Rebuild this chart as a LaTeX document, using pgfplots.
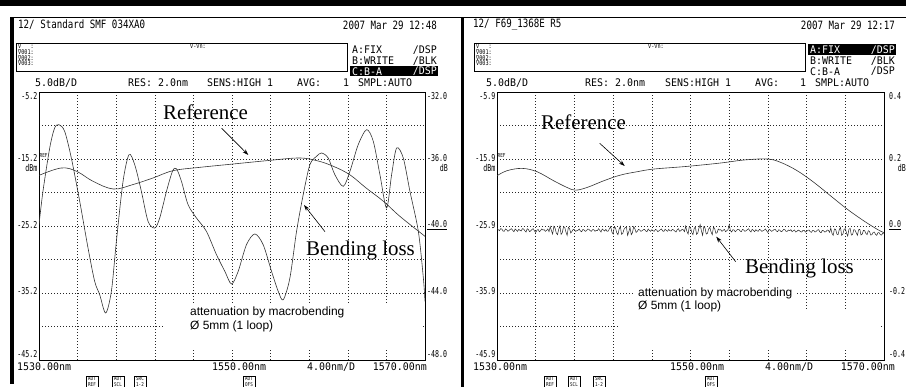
\documentclass[border=0pt]{standalone}
\usepackage{pgfplots}
\pgfplotsset{compat=1.18}
\usetikzlibrary{arrows.meta}
\usepackage{fontspec}
\setmainfont{Liberation Serif}
\newfontfamily\osa[FakeStretch=0.8]{DejaVu Sans Mono}
\newfontfamily\osan[FakeStretch=0.7]{DejaVu Sans Mono}
\newfontfamily\osaw[FakeStretch=0.95]{DejaVu Sans Mono}
\newfontfamily\arial{Liberation Sans}
\newcommand{\fs}[1]{\fontsize{#1}{#1}\selectfont}

\pgfplotsset{osa/.style={
  anchor=south west, width=386bp, height=268bp, scale only axis,
  xmin=1530, xmax=1570, xtick={1530,1534,...,1570},
  xticklabels={}, yticklabels={}, major tick length=0pt,
  grid=major, major grid style={black!85, line width=0.45bp, dash pattern=on 0.9bp off 2.1bp},
  axis line style={black, line width=0.9bp}},
  trace/.style={black!80, line width=0.6bp}}

\begin{document}
\begin{tikzpicture}
\useasboundingbox (0,0) rectangle (906bp,387bp);

% ---------------- left panel ----------------
\begin{axis}[osa, at={(39bp,27bp)}, ymin=-45.2, ymax=-5.2,
  ytick={-45.2,-40.2,-35.2,-30.2,-25.2,-20.2,-15.2,-10.2,-5.2}]
\fill[white] (axis cs:1543,-43.6) rectangle (axis cs:1569.6,-36.9);
% Reference (A: FIX)
\addplot[trace, smooth, tension=0.6] coordinates {
(1530.0,-17.64)(1532.3,-16.54)(1533.9,-17.04)(1535.6,-18.53)(1537.7,-19.68)
(1539.7,-19.03)(1541.8,-18.04)(1543.9,-16.94)(1546.7,-16.44)(1550.1,-15.95)
(1553.6,-15.45)(1556.9,-15.05)(1558.8,-15.45)(1560.5,-16.29)(1562.2,-17.54)
(1563.9,-19.53)(1565.7,-21.52)(1567.4,-23.76)(1570.0,-26.74)};
% Bending loss (C: B-A)
\addplot[trace, smooth, tension=0.5] coordinates {
(1530.00,-25.00)(1530.41,-20.03)(1531.11,-13.56)(1531.62,-10.57)(1532.07,-10.08)
(1532.66,-11.07)(1533.35,-15.05)(1534.22,-21.52)(1535.08,-28.48)(1535.77,-33.46)
(1536.29,-35.45)(1536.91,-38.18)(1537.50,-34.95)(1538.02,-27.49)(1538.71,-18.53)
(1539.33,-14.55)(1539.92,-16.05)(1540.61,-20.03)(1541.30,-24.50)(1542.00,-25.50)
(1542.51,-24.01)(1543.21,-20.03)(1543.83,-17.04)(1544.24,-16.64)(1544.76,-18.53)
(1545.45,-22.02)(1546.32,-24.01)(1547.35,-26.00)(1548.39,-29.48)(1549.26,-31.97)
(1549.95,-33.86)(1550.64,-31.97)(1551.50,-27.99)(1552.37,-26.39)(1553.23,-27.99)
(1554.10,-31.97)(1554.79,-34.95)(1555.31,-36.20)(1556.00,-32.96)(1556.69,-26.00)
(1557.38,-20.52)(1558.07,-16.05)(1558.76,-14.80)(1559.28,-14.30)(1559.97,-15.05)
(1560.66,-17.54)(1561.53,-19.28)(1562.22,-17.04)(1563.08,-13.06)(1563.95,-10.82)
(1564.64,-12.56)(1565.33,-17.54)(1566.02,-22.51)(1566.54,-17.54)(1567.06,-13.56)
(1567.75,-15.05)(1568.44,-20.03)(1569.31,-26.00)(1569.83,-32.96)(1570.00,-36.44)};
\end{axis}

% ---------------- right panel ----------------
\begin{axis}[osa, at={(497bp,27bp)}, width=387bp, ymin=-45.9, ymax=-5.9,
  ytick={-45.9,-40.9,-35.9,-30.9,-25.9,-20.9,-15.9,-10.9,-5.9}]
\fill[white] (axis cs:1542.6,-44.3) rectangle (axis cs:1569.6,-38.6);
\fill[white] (axis cs:1544.2,-39) rectangle (axis cs:1560.8,-35.2);
\addplot[trace, smooth, tension=0.6] coordinates {
(1530.00,-18.40)(1531.03,-17.65)(1532.59,-17.30)(1534.14,-17.80)(1535.86,-19.15)
(1537.24,-20.15)(1538.10,-20.55)(1539.31,-20.15)(1541.03,-19.15)(1542.76,-18.30)
(1544.48,-17.80)(1546.21,-17.40)(1549.66,-17.00)(1553.10,-16.50)(1555.52,-16.05)
(1557.93,-15.90)(1559.31,-16.40)(1561.03,-17.65)(1562.76,-19.40)(1564.48,-21.40)
(1566.21,-23.40)(1567.93,-25.15)(1569.31,-26.40)(1570.00,-26.90)};
\addplot[black!85, line width=0.5bp] table {
1530.000 -26.20
1530.125 -26.45
1530.250 -26.60
1530.375 -26.30
1530.500 -26.35
1530.625 -26.65
1530.750 -26.70
1530.875 -26.35
1531.000 -26.45
1531.125 -26.70
1531.250 -26.55
1531.375 -26.40
1531.500 -26.30
1531.625 -26.55
1531.750 -26.75
1531.875 -26.35
1532.000 -26.50
1532.125 -26.70
1532.250 -26.40
1532.375 -26.55
1532.500 -26.65
1532.625 -26.30
1532.750 -26.35
1532.875 -26.60
1533.000 -26.80
1533.125 -26.30
1533.250 -26.45
1533.375 -26.75
1533.500 -26.60
1533.625 -26.40
1533.750 -26.30
1533.875 -26.65
1534.000 -26.85
1534.125 -26.55
1534.250 -26.40
1534.375 -26.75
1534.500 -26.60
1534.625 -26.35
1534.750 -26.50
1534.875 -26.45
1535.000 -26.70
1535.125 -26.55
1535.250 -26.35
1535.375 -26.75
1535.500 -26.00
1535.625 -26.60
1535.750 -27.10
1535.875 -25.95
1536.000 -26.20
1536.125 -26.95
1536.250 -27.20
1536.375 -26.40
1536.500 -25.90
1536.625 -27.15
1536.750 -26.90
1536.875 -26.00
1537.000 -26.10
1537.125 -26.80
1537.250 -27.30
1537.375 -26.10
1537.500 -26.30
1537.625 -26.95
1537.750 -26.70
1537.875 -26.40
1538.000 -26.45
1538.125 -26.70
1538.250 -26.60
1538.375 -26.55
1538.500 -26.35
1538.625 -26.65
1538.750 -26.75
1538.875 -26.40
1539.000 -26.50
1539.125 -26.70
1539.250 -26.60
1539.375 -26.35
1539.500 -26.40
1539.625 -26.60
1539.750 -26.70
1539.875 -26.45
1540.000 -26.45
1540.125 -26.70
1540.250 -26.55
1540.375 -26.60
1540.500 -26.30
1540.625 -26.55
1540.750 -26.80
1540.875 -26.35
1541.000 -26.50
1541.125 -26.65
1541.250 -26.40
1541.375 -26.70
1541.500 -26.65
1541.625 -26.30
1541.750 -26.00
1541.875 -26.80
1542.000 -27.10
1542.125 -26.00
1542.250 -26.20
1542.375 -26.90
1542.500 -27.20
1542.625 -26.35
1542.750 -25.95
1542.875 -27.15
1543.000 -27.00
1543.125 -26.40
1543.250 -26.15
1543.375 -26.05
1543.500 -27.30
1543.625 -26.75
1543.750 -26.10
1543.875 -27.20
1544.000 -26.90
1544.125 -26.00
1544.250 -26.30
1544.375 -26.85
1544.500 -26.70
1544.625 -26.40
1544.750 -26.50
1544.875 -26.70
1545.000 -26.60
1545.125 -26.45
1545.250 -26.40
1545.375 -26.65
1545.500 -26.75
1545.625 -26.35
1545.750 -26.55
1545.875 -26.70
1546.000 -26.45
1546.125 -26.60
1546.250 -26.70
1546.375 -26.40
1546.500 -26.50
1546.625 -26.75
1546.750 -26.60
1546.875 -26.45
1547.000 -26.35
1547.125 -26.65
1547.250 -26.70
1547.375 -26.40
1547.500 -26.55
1547.625 -26.70
1547.750 -26.40
1547.875 -26.60
1548.000 -26.65
1548.125 -26.40
1548.250 -26.50
1548.375 -26.65
1548.500 -26.80
1548.625 -26.45
1548.750 -26.30
1548.875 -26.70
1549.000 -26.60
1549.125 -26.40
1549.250 -26.45
1549.375 -26.75
1549.500 -25.90
1549.625 -26.70
1549.750 -27.10
1549.875 -26.00
1550.000 -26.10
1550.125 -26.85
1550.250 -27.20
1550.375 -26.30
1550.500 -26.00
1550.625 -27.15
1550.750 -26.95
1550.875 -26.20
1551.000 -25.70
1551.125 -26.60
1551.250 -27.30
1551.375 -26.00
1551.500 -26.20
1551.625 -27.10
1551.750 -27.00
1551.875 -26.35
1552.000 -26.10
1552.125 -26.80
1552.250 -27.20
1552.375 -26.05
1552.500 -26.30
1552.625 -27.00
1552.750 -26.90
1552.875 -26.35
1553.000 -26.50
1553.125 -26.45
1553.250 -26.70
1553.375 -26.55
1553.500 -26.40
1553.625 -26.75
1553.750 -26.60
1553.875 -26.45
1554.000 -25.70
1554.125 -26.60
1554.250 -26.80
1554.375 -26.45
1554.500 -26.50
1554.625 -26.75
1554.750 -26.60
1554.875 -26.40
1555.000 -26.40
1555.125 -26.65
1555.250 -26.75
1555.375 -26.40
1555.500 -26.50
1555.625 -26.70
1555.750 -26.60
1555.875 -26.45
1556.000 -26.30
1556.125 -26.60
1556.250 -26.80
1556.375 -26.40
1556.500 -26.55
1556.625 -26.75
1556.750 -26.45
1556.875 -26.60
1557.000 -26.70
1557.125 -26.40
1557.250 -26.50
1557.375 -26.70
1557.500 -26.60
1557.625 -26.50
1557.750 -26.35
1557.875 -26.65
1558.000 -26.85
1558.125 -26.40
1558.250 -26.50
1558.375 -26.70
1558.500 -26.60
1558.625 -26.45
1558.750 -26.40
1558.875 -26.65
1559.000 -26.75
1559.125 -26.45
1559.250 -26.55
1559.375 -26.75
1559.500 -26.65
1559.625 -26.40
1559.750 -26.45
1559.875 -26.70
1560.000 -26.70
1560.125 -26.50
1560.250 -26.60
1560.375 -26.45
1560.500 -26.75
1560.625 -26.60
1560.750 -26.50
1560.875 -26.80
1561.000 -26.70
1561.125 -26.50
1561.250 -26.60
1561.375 -26.75
1561.500 -26.80
1561.625 -26.55
1561.750 -26.55
1561.875 -26.80
1562.000 -26.70
1562.125 -26.55
1562.250 -26.50
1562.375 -26.75
1562.500 -26.85
1562.625 -26.55
1562.750 -26.60
1562.875 -26.80
1563.000 -26.70
1563.125 -26.50
1563.250 -26.45
1563.375 -26.80
1563.500 -26.90
1563.625 -26.55
1563.750 -26.60
1563.875 -26.80
1564.000 -26.75
1564.125 -26.50
1564.250 -26.55
1564.375 -26.85
1564.500 -26.20
1564.625 -27.00
1564.750 -27.30
1564.875 -26.35
1565.000 -26.40
1565.125 -27.10
1565.250 -27.20
1565.375 -26.45
1565.500 -26.10
1565.625 -27.30
1565.750 -27.10
1565.875 -26.40
1566.000 -26.30
1566.125 -26.95
1566.250 -27.40
1566.375 -26.40
1566.500 -26.25
1566.625 -27.25
1566.750 -27.20
1566.875 -26.45
1567.000 -26.50
1567.125 -26.90
1567.250 -27.30
1567.375 -26.45
1567.500 -26.40
1567.625 -27.25
1567.750 -27.10
1567.875 -26.55
1568.000 -26.60
1568.125 -27.00
1568.250 -27.20
1568.375 -26.60
1568.500 -26.70
1568.625 -27.25
1568.750 -27.20
1568.875 -26.85
1569.000 -26.80
1569.125 -27.15
1569.250 -27.30
1569.375 -26.90
1569.500 -26.90
1569.625 -27.20
1569.750 -27.25
1569.875 -26.95
1570.000 -27.00
};
\end{axis}

% ---------------- decorations and texts (pixel coordinates) ----------------
\begin{scope}[x=1bp, y=-1bp, shift={(0bp,387bp)}, every node/.style={inner sep=0pt}]
\fill[black] (0,0) rectangle (906,6.5);
\draw[line width=1.2bp] (10,17.5) -- (906,17.5);
\fill[black] (10,17) rectangle (13.5,384);
\fill[black] (460.5,17) rectangle (464,387);

% ---- left header ----
\node[anchor=west, font=\osa\fs{11.5}] at (18,25) {12/ Standard SMF 034XA0};
\node[anchor=east, font=\osa\fs{11.5}] at (437,25) {2007 Mar 29 12:48};
\draw[line width=0.6bp] (16,43) rectangle (347,71.5);
\node[anchor=west, font=\osa\fs{6.5}] at (18,46.5) {∇\phantom{000}:};
\node[anchor=west, font=\osa\fs{6.5}] at (18,52.5) {∇001:};
\node[anchor=west, font=\osa\fs{6.5}] at (18,58) {∇002:};
\node[anchor=west, font=\osa\fs{6.5}] at (18,63.5) {∇003:};
\node[anchor=west, font=\osa\fs{6.5}] at (190,46.5) {∇-∇n:};
\node[anchor=west, font=\osaw\fs{10.5}] at (352,50) {A:FIX};
\node[anchor=east, font=\osaw\fs{10.5}] at (437,50) {/DSP};
\node[anchor=west, font=\osaw\fs{10.5}] at (352,61) {B:WRITE};
\node[anchor=east, font=\osaw\fs{10.5}] at (437,61) {/BLK};
\fill[black] (350,66) rectangle (438,76.5);
\node[anchor=west, font=\osaw\fs{10.5}, text=white] at (352,71.5) {C:B-A};
\node[anchor=east, font=\osaw\fs{10.5}, text=white] at (437,71.5) {/DSP};
\node[anchor=west, font=\osaw\fs{10.5}] at (35,83) {5.0dB/D};
\node[anchor=west, font=\osaw\fs{10.5}] at (128,83) {RES: 2.0nm};
\node[anchor=west, font=\osaw\fs{10.5}] at (207,83) {SENS:HIGH 1};
\node[anchor=west, font=\osaw\fs{10.5}] at (297,83) {AVG:};
\node[anchor=west, font=\osaw\fs{10.5}] at (343,83) {1};
\node[anchor=west, font=\osaw\fs{10.5}] at (358,83) {SMPL:AUTO};
% left y labels
\node[anchor=east, font=\osan\fs{9.5}] at (37.5,96.5) {-5.2};
\node[anchor=east, font=\osan\fs{9.5}] at (37.5,158) {-15.2};
\node[anchor=west, font=\osa\fs{5.5}] at (39.5,155.5) {REF};
\node[anchor=east, font=\osan\fs{9.5}] at (37.5,167.5) {dBm};
\node[anchor=east, font=\osan\fs{9.5}] at (37.5,225) {-25.2};
\node[anchor=east, font=\osan\fs{9.5}] at (37.5,291.5) {-35.2};
\node[anchor=east, font=\osan\fs{9.5}] at (37.5,354.5) {-45.2};
\node[anchor=west, font=\osan\fs{9.5}] at (427,96.5) {-32.0};
\node[anchor=west, font=\osan\fs{9.5}] at (427,158) {-36.0};
\node[anchor=east, font=\osan\fs{9.5}] at (448,167.5) {dB};
\node[anchor=west, font=\osan\fs{9.5}] at (427,225) {\underline{-40.0}};
\node[anchor=west, font=\osan\fs{9.5}] at (427,291.5) {-44.0};
\node[anchor=west, font=\osan\fs{9.5}] at (427,354.5) {-48.0};
% left x labels
\node[anchor=west, font=\osaw\fs{10.5}] at (17,367) {1530.00nm};
\node[anchor=west, font=\osaw\fs{10.5}] at (212,367) {1550.00nm};
\node[anchor=west, font=\osaw\fs{10.5}] at (307,367) {4.00nm/D};
\node[anchor=east, font=\osaw\fs{10.5}] at (427,367) {1570.00nm};
\foreach \cx/\ta/\tb in {92/AUT/REF, 118/AUT/SCL, 140/SRC/1-2, 249/AUT/OFS}
  \node[draw, line width=0.45bp, inner sep=0.6bp, minimum width=12bp, minimum height=10.5bp, font=\osa\fs{5.3}, align=center] at (\cx,381.5) {\ta\\\tb};
% left annotations
\node[anchor=base west, font=\fs{21}] at (163,119.5) {Reference};
\node[anchor=base west, font=\fs{21}] at (306,255.5) {Bending loss};
\draw[line width=0.6bp, -{Stealth[length=6bp,width=4bp]}] (221.7,128.3) -- (248.3,155);
\draw[line width=0.6bp, -{Stealth[length=6bp,width=4bp]}] (325,231.7) -- (304,205);
\node[anchor=base west, font=\arial\fs{12}] at (190,316) {attenuation by macrobending};
\node[anchor=base west, font=\arial\fs{12}] at (190,330) {Ø 5mm (1 loop)};

% ---- right header ----
\node[anchor=west, font=\osa\fs{11.5}] at (473,25) {12/ F69\_1368E R5};
\node[anchor=east, font=\osa\fs{11.5}] at (895,25) {2007 Mar 29 12:17};
\draw[line width=0.6bp] (474,43) rectangle (805,71.5);
\node[anchor=west, font=\osa\fs{6.5}] at (476,46.5) {∇\phantom{000}:};
\node[anchor=west, font=\osa\fs{6.5}] at (476,52.5) {∇001:};
\node[anchor=west, font=\osa\fs{6.5}] at (476,58) {∇002:};
\node[anchor=west, font=\osa\fs{6.5}] at (476,63.5) {∇003:};
\node[anchor=west, font=\osa\fs{6.5}] at (648,46.5) {∇-∇n:};
\fill[black] (808,44.5) rectangle (896,55);
\node[anchor=west, font=\osaw\fs{10.5}, text=white] at (810,50) {A:FIX};
\node[anchor=east, font=\osaw\fs{10.5}, text=white] at (895,50) {/DSP};
\node[anchor=west, font=\osaw\fs{10.5}] at (810,61) {B:WRITE};
\node[anchor=east, font=\osaw\fs{10.5}] at (895,61) {/BLK};
\node[anchor=west, font=\osaw\fs{10.5}] at (810,71.5) {C:B-A};
\node[anchor=east, font=\osaw\fs{10.5}] at (895,71.5) {/DSP};
\node[anchor=west, font=\osaw\fs{10.5}] at (486,83) {5.0dB/D};
\node[anchor=west, font=\osaw\fs{10.5}] at (585,83) {RES: 2.0nm};
\node[anchor=west, font=\osaw\fs{10.5}] at (665,83) {SENS:HIGH 1};
\node[anchor=west, font=\osaw\fs{10.5}] at (755,83) {AVG:};
\node[anchor=west, font=\osaw\fs{10.5}] at (800,83) {1};
\node[anchor=west, font=\osaw\fs{10.5}] at (815,83) {SMPL:AUTO};
% right y labels
\node[anchor=east, font=\osan\fs{9.5}] at (495.5,96.5) {-5.9};
\node[anchor=east, font=\osan\fs{9.5}] at (495.5,158) {-15.9};
\node[anchor=west, font=\osa\fs{5.5}] at (497.5,155.5) {REF};
\node[anchor=east, font=\osan\fs{9.5}] at (495.5,167.5) {dBm};
\node[anchor=east, font=\osan\fs{9.5}] at (495.5,225) {-25.9};
\node[anchor=east, font=\osan\fs{9.5}] at (495.5,291.5) {-35.9};
\node[anchor=east, font=\osan\fs{9.5}] at (495.5,354.5) {-45.9};
\node[anchor=west, font=\osan\fs{9.5}] at (889,96.5) {0.4};
\node[anchor=west, font=\osan\fs{9.5}] at (889,158) {0.2};
\node[anchor=east, font=\osan\fs{9.5}] at (906,167.5) {dB};
\node[anchor=west, font=\osan\fs{9.5}] at (889,225) {\underline{0.0}};
\node[anchor=west, font=\osan\fs{9.5}] at (889,291.5) {-0.2};
\node[anchor=west, font=\osan\fs{9.5}] at (889,354.5) {-0.4};
% right x labels
\node[anchor=west, font=\osaw\fs{10.5}] at (473,367) {1530.00nm};
\node[anchor=west, font=\osaw\fs{10.5}] at (670,367) {1550.00nm};
\node[anchor=west, font=\osaw\fs{10.5}] at (765,367) {4.00nm/D};
\node[anchor=east, font=\osaw\fs{10.5}] at (895,367) {1570.00nm};
\foreach \cx/\ta/\tb in {550/AUT/REF, 574/AUT/SCL, 599/SRC/1-2, 711/AUT/OFS}
  \node[draw, line width=0.45bp, inner sep=0.6bp, minimum width=12bp, minimum height=10.5bp, font=\osa\fs{5.3}, align=center] at (\cx,381.5) {\ta\\\tb};
% right annotations
\node[anchor=base west, font=\fs{21}] at (541,130) {Reference};
\node[anchor=base west, font=\fs{21}] at (745,274) {Bending loss};
\draw[line width=0.6bp, -{Stealth[length=6bp,width=4bp]}] (599.7,143.3) -- (624.7,166);
\draw[line width=0.6bp, -{Stealth[length=6bp,width=4bp]}] (735.7,261.7) -- (716.3,236.7);
\node[anchor=base west, font=\arial\fs{12}] at (638,297) {attenuation by macrobending};
\node[anchor=base west, font=\arial\fs{12}] at (638,310) {Ø 5mm (1 loop)};
\end{scope}
\end{tikzpicture}
\end{document}
